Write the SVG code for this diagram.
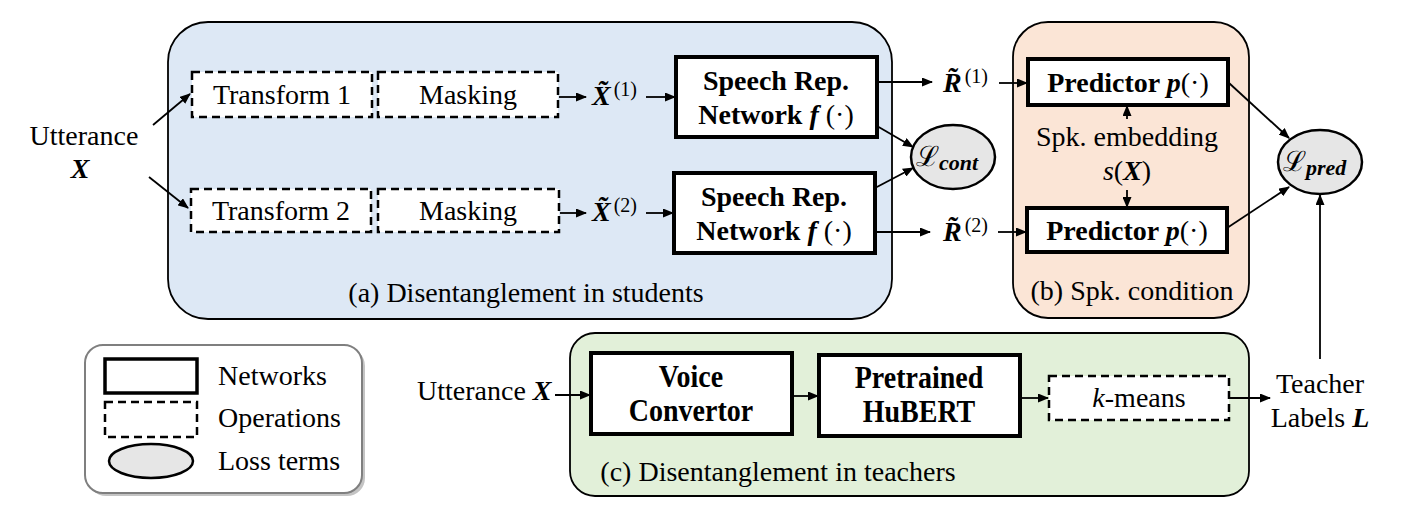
<svg xmlns="http://www.w3.org/2000/svg" width="1426" height="517" viewBox="0 0 1426 517" font-family="'Liberation Serif', 'Times New Roman', serif">
<style>
text{font-family:'Liberation Serif','Times New Roman',serif;fill:#000;}
.t{font-size:28px;}
.c{text-anchor:middle;}
.b{font-weight:bold;}
.bi{font-weight:bold;font-style:italic;}
.i{font-style:italic;}
.net{fill:#fff;stroke:#000;stroke-width:4;}
.op{fill:#fff;stroke:#000;stroke-width:2.5;stroke-dasharray:8 5;}
.loss{fill:#e6e6e6;stroke:#000;stroke-width:2.5;}
.ar{fill:none;stroke:#000;stroke-width:1.8;marker-end:url(#ah);}
.sup{font-size:20px;}
</style>
<defs>
<marker id="ah" markerUnits="userSpaceOnUse" markerWidth="11" markerHeight="9" refX="10" refY="4.5" orient="auto">
<path d="M0,0 L11,4.5 L0,9 z" fill="#000"/>
</marker>
</defs>

<g id="panel-a">
<rect x="168" y="22" width="724" height="297" rx="40" fill="#dde8f5" stroke="#000" stroke-width="1.8"/>
<text class="t c" x="526" y="302">(a) Disentanglement in students</text>
</g>
<g id="panel-b">
<rect x="1013" y="22" width="236" height="296" rx="35" fill="#fbe5d6" stroke="#000" stroke-width="1.8"/>
<text class="t c" x="1132" y="300">(b) Spk. condition</text>
</g>
<g id="panel-c">
<rect x="570" y="333" width="679" height="163" rx="25" fill="#e2f0d9" stroke="#000" stroke-width="1.8"/>
<text class="t c" x="778" y="481">(c) Disentanglement in teachers</text>
</g>

<g id="legend">
<rect x="88" y="348" width="277" height="148" rx="18" fill="#c4c4c4"/>
<rect x="85" y="345" width="277" height="148" rx="18" fill="#fff" stroke="#7f7f7f" stroke-width="2"/>
<rect x="105" y="359" width="92" height="34" fill="#fff" stroke="#000" stroke-width="3.5"/>
<rect x="105" y="402" width="92" height="35" class="op"/>
<ellipse cx="151" cy="461" rx="42" ry="17" class="loss"/>
<text class="t" x="218" y="385">Networks</text>
<text class="t" x="218" y="427">Operations</text>
<text class="t" x="218" y="470">Loss terms</text>
</g>

<g id="input-utterance">
<text class="t c" x="84" y="145">Utterance</text>
<text class="t c bi" x="80" y="178">X</text>
</g>

<g id="transform1"><rect x="192" y="72" width="180" height="45" class="op"/><text class="t c" x="282" y="104">Transform 1</text></g>
<g id="masking1"><rect x="378" y="72" width="180" height="45" class="op"/><text class="t c" x="468" y="104">Masking</text></g>
<g id="transform2"><rect x="191" y="189" width="180" height="43" class="op"/><text class="t c" x="281" y="220">Transform 2</text></g>
<g id="masking2"><rect x="378" y="189" width="181" height="43" class="op"/><text class="t c" x="468" y="220">Masking</text></g>

<g id="x1"><text class="t" x="592" y="105"><tspan class="bi">X&#x303;</tspan><tspan class="sup" dx="3" dy="-9">(1)</tspan></text></g>
<g id="x2"><text class="t" x="592" y="221"><tspan class="bi">X&#x303;</tspan><tspan class="sup" dx="3" dy="-9">(2)</tspan></text></g>

<g id="speech1"><rect x="676" y="57" width="201" height="80" class="net"/>
<text class="t c b" x="776" y="90">Speech Rep.</text>
<text class="t c" x="776" y="124"><tspan class="b">Network </tspan><tspan class="bi">f</tspan> (·)</text></g>
<g id="speech2"><rect x="674" y="173" width="201" height="80" class="net"/>
<text class="t c b" x="774" y="206">Speech Rep.</text>
<text class="t c" x="774" y="240"><tspan class="b">Network </tspan><tspan class="bi">f</tspan> (·)</text></g>

<g id="lcont"><ellipse cx="953" cy="157" rx="42" ry="32" class="loss"/>
<text class="t" x="916" y="166">ℒ<tspan class="bi" font-size="22" dy="4">cont</tspan></text></g>

<g id="r1"><text class="t" x="943" y="92"><tspan class="bi">R&#x303;</tspan><tspan class="sup" dx="3" dy="-9">(1)</tspan></text></g>
<g id="r2"><text class="t" x="943" y="241"><tspan class="bi">R&#x303;</tspan><tspan class="sup" dx="3" dy="-9">(2)</tspan></text></g>

<g id="predictor1"><rect x="1028" y="59" width="200" height="46" class="net"/>
<text class="t c" x="1128" y="92"><tspan class="b">Predictor </tspan><tspan class="bi">p</tspan>(·)</text></g>
<g id="predictor2"><rect x="1027" y="208" width="200" height="44" class="net"/>
<text class="t c" x="1127" y="240"><tspan class="b">Predictor </tspan><tspan class="bi">p</tspan>(·)</text></g>

<g id="spk-embedding">
<text class="t c" x="1127" y="146">Spk. embedding</text>
<text class="t c" x="1127" y="180"><tspan class="i">s</tspan>(<tspan class="bi">X</tspan>)</text>
</g>

<g id="lpred"><ellipse cx="1320" cy="162" rx="42" ry="32" class="loss"/>
<text class="t" x="1283" y="171">ℒ<tspan class="bi" font-size="22" dy="4">pred</tspan></text></g>

<g id="teacher-labels">
<text class="t c" x="1320" y="393">Teacher</text>
<text class="t c" x="1320" y="427">Labels <tspan class="bi">L</tspan></text>
</g>

<g id="utterance2"><text class="t" x="417" y="400">Utterance <tspan class="bi">X</tspan></text></g>

<g id="voice-convertor"><rect x="591" y="353" width="201" height="81" class="net"/>
<text class="t c b" transform="translate(691,387) scale(1,1.1)">Voice</text>
<text class="t c b" transform="translate(691,421) scale(1,1.1)">Convertor</text></g>
<g id="hubert"><rect x="819" y="355" width="201" height="81" class="net"/>
<text class="t c b" transform="translate(919,388) scale(1,1.1)">Pretrained</text>
<text class="t c b" transform="translate(919,422) scale(1,1.1)">HuBERT</text></g>
<g id="kmeans"><rect x="1049" y="376" width="180" height="44" class="op"/>
<text class="t c" x="1139" y="407"><tspan class="i">k</tspan>-means</text></g>

<g id="connectors">
<line x1="153" y1="125" x2="190" y2="94" class="ar"/>
<line x1="149" y1="177" x2="188" y2="208" class="ar"/>
<line x1="559" y1="97" x2="586" y2="97" class="ar"/>
<line x1="646" y1="97" x2="675" y2="97" class="ar"/>
<line x1="560" y1="213" x2="586" y2="213" class="ar"/>
<line x1="646" y1="213" x2="673" y2="213" class="ar"/>
<line x1="877" y1="82" x2="932" y2="82" class="ar"/>
<line x1="999" y1="83" x2="1027" y2="83" class="ar"/>
<line x1="875" y1="232" x2="930" y2="232" class="ar"/>
<line x1="998" y1="232" x2="1026" y2="232" class="ar"/>
<line x1="877" y1="126" x2="913" y2="147" class="ar"/>
<line x1="875" y1="188" x2="913" y2="168" class="ar"/>
<line x1="1127" y1="119" x2="1127" y2="106" class="ar"/>
<line x1="1127" y1="190" x2="1127" y2="207" class="ar"/>
<line x1="1229" y1="83" x2="1289" y2="138" class="ar"/>
<line x1="1227" y1="228" x2="1289" y2="187" class="ar"/>
<line x1="1320" y1="359" x2="1320" y2="195" class="ar"/>
<line x1="555" y1="395" x2="590" y2="395" class="ar"/>
<line x1="792" y1="396" x2="818" y2="396" class="ar"/>
<line x1="1020" y1="398" x2="1048" y2="398" class="ar"/>
<line x1="1229" y1="398" x2="1270" y2="398" class="ar"/>
</g>
</svg>
